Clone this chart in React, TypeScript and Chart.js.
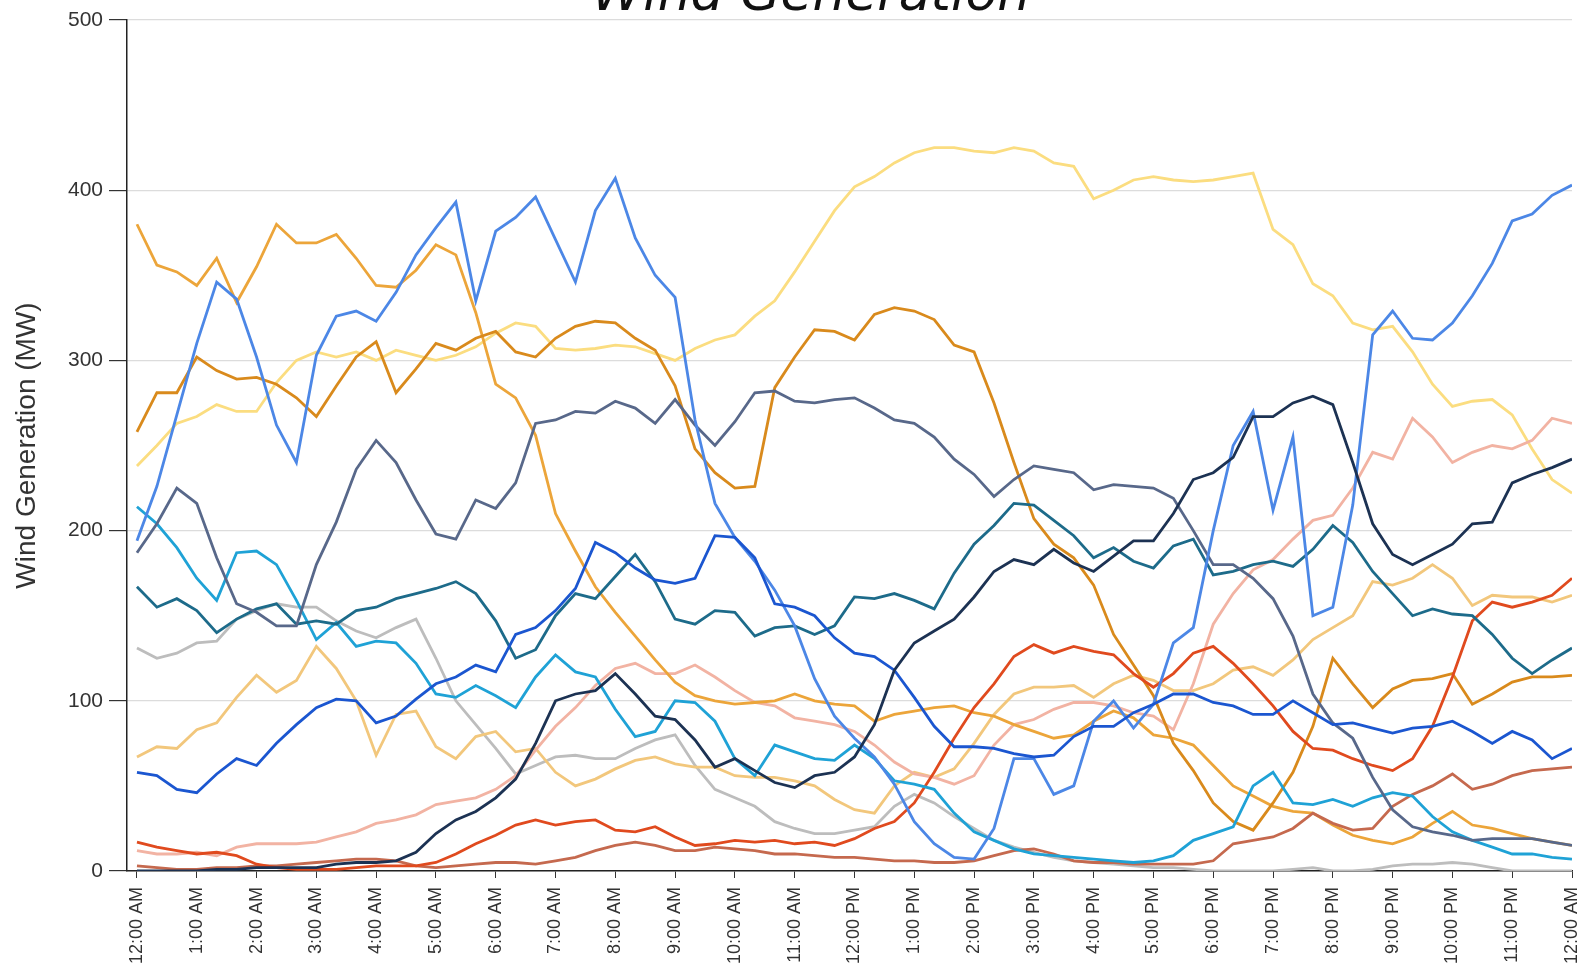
import React, { useEffect, useRef } from 'react';
import { Chart, registerables } from 'chart.js';

Chart.register(...registerables);

const CHART_TITLE = 'Wind Generation';
const Y_AXIS_TITLE = 'Wind Generation (MW)';

// sample times, minutes after midnight (20-minute steps)
const minutes = [
  0, 20, 40, 60, 80, 100, 120, 140, 160, 180, 200, 220, 240, 260, 280, 300, 320, 340,
  360, 380, 400, 420, 440, 460, 480, 500, 520, 540, 560, 580, 600, 620, 640, 660, 680, 700,
  720, 740, 760, 780, 800, 820, 840, 860, 880, 900, 920, 940, 960, 980, 1000, 1020, 1040, 1060,
  1080, 1100, 1120, 1140, 1160, 1180, 1200, 1220, 1240, 1260, 1280, 1300, 1320, 1340, 1360, 1380,
  1400, 1420, 1440,
];

const hourTickMinutes = [
  0, 60, 120, 180, 240, 300, 360, 420, 480, 540, 600, 660, 720,
  780, 840, 900, 960, 1020, 1080, 1140, 1200, 1260, 1320, 1380, 1440,
];
const hourTickLabels = [
  '12:00 AM', '1:00 AM', '2:00 AM', '3:00 AM', '4:00 AM', '5:00 AM', '6:00 AM', '7:00 AM',
  '8:00 AM', '9:00 AM', '10:00 AM', '11:00 AM', '12:00 PM', '1:00 PM', '2:00 PM', '3:00 PM',
  '4:00 PM', '5:00 PM', '6:00 PM', '7:00 PM', '8:00 PM', '9:00 PM', '10:00 PM', '11:00 PM', '12:00 AM',
];
const yTickValues = [0, 100, 200, 300, 400, 500];

const lightYellow = [
  238, 250, 263, 267, 274, 270, 270, 287, 300, 305, 302, 305, 300, 306, 303, 300, 303, 308,
  316, 322, 320, 307, 306, 307, 309, 308, 304, 300, 307, 312, 315, 326, 335, 352, 370, 388,
  402, 408, 416, 422, 425, 425, 423, 422, 425, 423, 416, 414, 395, 400, 406, 408, 406, 405,
  406, 408, 410, 377, 368, 345, 338, 322, 318, 320, 305, 286, 273, 276, 277, 268, 248, 230, 222,
];
const cornflower = [
  194, 226, 268, 310, 346, 336, 302, 262, 240, 303, 326, 329, 323, 340, 362, 378, 393, 335,
  376, 384, 396, 371, 346, 388, 407, 372, 350, 337, 265, 216, 196, 182, 165, 144, 113, 91,
  78, 67, 51, 29, 16, 8, 7, 25, 66, 66, 45, 50, 88, 100, 84, 98, 134, 143,
  200, 250, 270, 212, 255, 150, 155, 215, 315, 329, 313, 312, 322, 338, 357, 382, 386, 397, 403,
];
const gold = [
  380, 356, 352, 344, 360, 334, 355, 380, 369, 369, 374, 360, 344, 343, 353, 368, 362, 328,
  286, 278, 256, 210, 188, 167, 152, 138, 124, 111, 103, 100, 98, 99, 100, 104, 100, 98,
  97, 88, 92, 94, 96, 97, 93, 91, 86, 82, 78, 80, 88, 94, 90, 80, 78, 74,
  62, 50, 44, 38, 35, 34, 27, 21, 18, 16, 20, 28, 35, 27, 25, 22, 19, 17, 15,
];
const darkOrange = [
  258, 281, 281, 302, 294, 289, 290, 286, 278, 267, 285, 302, 311, 281, 295, 310, 306, 313,
  317, 305, 302, 313, 320, 323, 322, 313, 306, 285, 248, 234, 225, 226, 284, 302, 318, 317,
  312, 327, 331, 329, 324, 309, 305, 275, 240, 207, 192, 184, 168, 139, 121, 103, 75, 59,
  40, 29, 24, 40, 58, 85, 125, 110, 96, 107, 112, 113, 116, 98, 104, 111, 114, 114, 115,
];
const slate = [
  187, 204, 225, 216, 184, 157, 152, 144, 144, 180, 205, 236, 253, 240, 218, 198, 195, 218,
  213, 228, 263, 265, 270, 269, 276, 272, 263, 277, 262, 250, 264, 281, 282, 276, 275, 277,
  278, 272, 265, 263, 255, 242, 233, 220, 230, 238, 236, 234, 224, 227, 226, 225, 219, 200,
  180, 180, 172, 160, 138, 104, 87, 78, 55, 36, 26, 23, 21, 18, 19, 19, 19, 17, 15,
];
const cyan = [
  214, 204, 190, 172, 159, 187, 188, 180, 159, 136, 146, 132, 135, 134, 122, 104, 102, 109,
  103, 96, 114, 127, 117, 114, 95, 79, 82, 100, 99, 88, 66, 56, 74, 70, 66, 65,
  74, 66, 53, 51, 48, 34, 23, 18, 13, 10, 9, 8, 7, 6, 5, 6, 9, 18,
  22, 26, 50, 58, 40, 39, 42, 38, 43, 46, 44, 32, 23, 18, 14, 10, 10, 8, 7,
];
const teal = [
  167, 155, 160, 153, 140, 148, 154, 157, 145, 147, 145, 153, 155, 160, 163, 166, 170, 163,
  147, 125, 130, 150, 163, 160, 173, 186, 170, 148, 145, 153, 152, 138, 143, 144, 139, 144,
  161, 160, 163, 159, 154, 175, 192, 203, 216, 215, 206, 197, 184, 190, 182, 178, 191, 195,
  174, 176, 180, 182, 179, 189, 203, 193, 176, 163, 150, 154, 151, 150, 139, 125, 116, 124, 131,
];
const lightGray = [
  131, 125, 128, 134, 135, 148, 153, 157, 155, 155, 147, 141, 137, 143, 148, 125, 100, 86,
  72, 57, 62, 67, 68, 66, 66, 72, 77, 80, 62, 48, 43, 38, 29, 25, 22, 22,
  24, 26, 38, 45, 40, 32, 25, 18, 14, 11, 8, 6, 5, 4, 3, 2, 2, 1,
  0, 0, 0, 0, 1, 2, 0, 0, 1, 3, 4, 4, 5, 4, 2, 0, 0, 0, 0,
];
const tan = [
  67, 73, 72, 83, 87, 102, 115, 105, 112, 132, 119, 100, 68, 92, 94, 73, 66, 79,
  82, 70, 72, 58, 50, 54, 60, 65, 67, 63, 61, 61, 56, 55, 55, 53, 50, 42,
  36, 34, 50, 58, 55, 60, 75, 92, 104, 108, 108, 109, 102, 110, 115, 112, 106, 106,
  110, 118, 120, 115, 124, 136, 143, 150, 170, 168, 172, 180, 172, 156, 162, 161, 161, 158, 162,
];
const royalBlue = [
  58, 56, 48, 46, 57, 66, 62, 75, 86, 96, 101, 100, 87, 91, 101, 110, 114, 121,
  117, 139, 143, 153, 166, 193, 187, 178, 171, 169, 172, 197, 196, 184, 157, 155, 150, 137,
  128, 126, 118, 102, 85, 73, 73, 72, 69, 67, 68, 79, 85, 85, 93, 98, 104, 104,
  99, 97, 92, 92, 100, 93, 86, 87, 84, 81, 84, 85, 88, 82, 75, 82, 77, 66, 72,
];
const navy = [
  0, 0, 0, 0, 1, 1, 2, 2, 2, 2, 4, 5, 5, 6, 11, 22, 30, 35,
  43, 54, 75, 100, 104, 106, 116, 104, 91, 89, 77, 61, 66, 59, 52, 49, 56, 58,
  67, 86, 118, 134, 141, 148, 161, 176, 183, 180, 189, 181, 176, 185, 194, 194, 210, 230,
  234, 243, 267, 267, 275, 279, 274, 240, 204, 186, 180, 186, 192, 204, 205, 228, 233, 237, 242,
];
const salmon = [
  12, 10, 10, 11, 9, 14, 16, 16, 16, 17, 20, 23, 28, 30, 33, 39, 41, 43,
  48, 56, 71, 85, 96, 109, 119, 122, 116, 116, 121, 114, 106, 99, 97, 90, 88, 86,
  82, 74, 64, 57, 55, 51, 56, 74, 86, 89, 95, 99, 99, 97, 93, 91, 83, 110,
  145, 163, 177, 183, 195, 206, 209, 225, 246, 242, 266, 255, 240, 246, 250, 248, 253, 266, 263,
];
const redOrange = [
  17, 14, 12, 10, 11, 9, 4, 2, 1, 1, 1, 2, 3, 3, 3, 5, 10, 16,
  21, 27, 30, 27, 29, 30, 24, 23, 26, 20, 15, 16, 18, 17, 18, 16, 17, 15,
  19, 25, 29, 40, 58, 78, 96, 110, 126, 133, 128, 132, 129, 127, 116, 108, 116, 128,
  132, 122, 110, 97, 82, 72, 71, 66, 62, 59, 66, 85, 114, 147, 158, 155, 158, 162, 172,
];
const brownRed = [
  3, 2, 1, 1, 2, 2, 3, 3, 4, 5, 6, 7, 7, 6, 3, 2, 3, 4,
  5, 5, 4, 6, 8, 12, 15, 17, 15, 12, 12, 14, 13, 12, 10, 10, 9, 8,
  8, 7, 6, 6, 5, 5, 6, 9, 12, 13, 10, 6, 5, 5, 4, 4, 4, 4,
  6, 16, 18, 20, 25, 34, 28, 24, 25, 38, 45, 50, 57, 48, 51, 56, 59, 60, 61,
];

const seriesNames = [
  'Plant 1', 'Plant 2', 'Plant 3', 'Plant 4', 'Plant 5', 'Plant 6', 'Plant 7',
  'Plant 8', 'Plant 9', 'Plant 10', 'Plant 11', 'Plant 12', 'Plant 13', 'Plant 14',
];
const seriesValues = [
  navy, royalBlue, cornflower, slate, teal, cyan, redOrange,
  brownRed, darkOrange, gold, salmon, tan, lightYellow, lightGray,
];
const seriesColors = [
  '#1c3253', '#1b56d0', '#4c87e6', '#58688a', '#1d6b8a', '#1fa2d6', '#e04a1e',
  '#c5694e', '#d98a1c', '#eca53a', '#f2b3a3', '#f2c77c', '#fbdd80', '#bdbdbd',
];

const FONT_FAMILY = '"Liberation Sans", Arial, sans-serif';

const topTitlePlugin = {
  id: 'topTitle',
  afterDraw(chart: any) {
    const ctx = chart.ctx;
    ctx.save();
    ctx.font = 'italic 52px "DejaVu Sans", Verdana, sans-serif';
    ctx.fillStyle = '#111';
    ctx.textAlign = 'center';
    ctx.textBaseline = 'alphabetic';
    ctx.fillText(CHART_TITLE, 811, 10);
    ctx.restore();
  },
};

export default function App() {
  const canvasRef = useRef<HTMLCanvasElement | null>(null);

  useEffect(() => {
    const canvas = canvasRef.current;
    if (!canvas) return;
    const datasets = seriesValues.map((vals, si) => ({
      label: seriesNames[si],
      data: minutes.map((m, i) => ({ x: m, y: vals[i] })),
      borderColor: seriesColors[si],
      backgroundColor: seriesColors[si],
      borderWidth: 2.8,
      pointRadius: 0,
      tension: 0,
      fill: false,
    }));
    const chart = new Chart(canvas, {
      type: 'line',
      data: { datasets },
      plugins: [topTitlePlugin],
      options: {
        responsive: false,
        animation: false,
        devicePixelRatio: 1,
        layout: { padding: { left: 0, right: 9, top: 20, bottom: 0 } },
        plugins: {
          legend: { display: false },
          tooltip: { enabled: false },
          title: { display: false },
        },
        scales: {
          x: {
            type: 'linear',
            min: -10,
            max: 1440,
            afterBuildTicks: (axis: any) => {
              axis.ticks = hourTickMinutes.map((v) => ({ value: v }));
            },
            afterFit: (scale: any) => {
              scale.height = 98;
              scale.paddingLeft = 0;
              scale.paddingRight = 0;
            },
            ticks: {
              autoSkip: false,
              minRotation: 90,
              maxRotation: 90,
              padding: 9,
              color: '#333',
              font: { family: FONT_FAMILY, size: 18 },
              callback: (_v: any, i: number) => hourTickLabels[i],
            },
            grid: {
              drawOnChartArea: false,
              drawTicks: true,
              tickLength: 7,
              tickColor: '#333',
            },
            border: { display: true, color: '#222', width: 1.5 },
          },
          y: {
            type: 'linear',
            min: 0,
            max: 500,
            afterBuildTicks: (axis: any) => {
              axis.ticks = yTickValues.map((v) => ({ value: v }));
            },
            afterFit: (scale: any) => {
              scale.width = 127;
              scale.paddingTop = 0;
              scale.paddingBottom = 0;
            },
            ticks: {
              padding: 6,
              color: '#333',
              font: { family: FONT_FAMILY, size: 21 },
            },
            grid: {
              color: '#dcdcdc',
              lineWidth: 1.2,
              tickLength: 18,
              tickColor: '#333',
            },
            border: { display: true, color: '#222', width: 1.5 },
            title: {
              display: true,
              text: Y_AXIS_TITLE,
              color: '#333',
              font: { family: FONT_FAMILY, size: 28 },
              padding: { top: 10, bottom: 0 },
            },
          },
        },
      },
    });
    return () => chart.destroy();
  }, []);

  return (
    <div style={{ position: 'absolute', left: 0, top: 0, width: 1581, height: 969, background: '#fff' }}>
      <canvas ref={canvasRef} width={1581} height={969} style={{ display: 'block' }} />
    </div>
  );
}
